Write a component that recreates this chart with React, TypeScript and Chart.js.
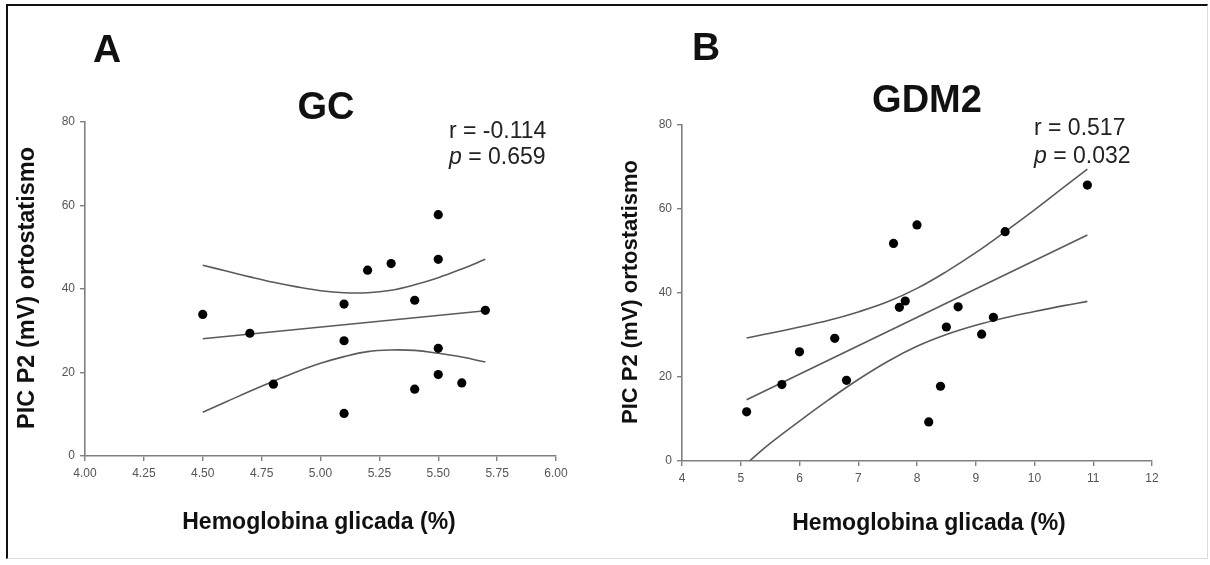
import React, { useEffect, useRef } from 'react';
import { Chart, registerables } from 'chart.js';
Chart.register(...registerables);

const FONT = '"Liberation Sans", Arial, Helvetica, sans-serif';

// ---- Panel A (GC) ----
const gcHbA1c = [4.5, 4.7, 4.8, 5.1, 5.1, 5.1, 5.2, 5.3, 5.4, 5.4, 5.5, 5.5, 5.5, 5.5, 5.6, 5.7];
const gcPic = [33.9, 29.4, 17.2, 36.4, 27.6, 10.2, 44.5, 46.1, 37.3, 16.0, 57.8, 47.1, 25.8, 19.5, 17.5, 34.9];
const gcFitX = [4.5, 5.7];
const gcFitY = [28.1, 34.8];
const gcBandX = [4.5, 4.6, 4.7, 4.8, 4.9, 5.0, 5.1, 5.2, 5.3, 5.4, 5.5, 5.6, 5.7];
const gcUpper = [45.7, 44.3, 42.9, 41.6, 40.5, 39.6, 39.1, 39.1, 39.7, 41.0, 42.7, 44.8, 47.1];
const gcLower = [10.5, 13.0, 15.5, 17.9, 20.2, 22.2, 23.8, 25.0, 25.4, 25.3, 24.6, 23.7, 22.5];
const gcXTicks = [4, 4.25, 4.5, 4.75, 5, 5.25, 5.5, 5.75, 6];
const gcXTickLabels = ['4.00', '4.25', '4.50', '4.75', '5.00', '5.25', '5.50', '5.75', '6.00'];

// ---- Panel B (GDM2) ----
const gdmHbA1c = [5.1, 5.7, 6.0, 6.6, 6.8, 7.6, 7.7, 7.8, 8.0, 8.2, 8.4, 8.5, 8.7, 9.1, 9.3, 9.5, 10.9];
const gdmPic = [11.7, 18.2, 26.0, 29.2, 19.2, 51.8, 36.6, 38.1, 56.2, 9.3, 17.8, 31.9, 36.7, 30.2, 34.2, 54.6, 65.7];
const gdmFitX = [5.1, 10.9];
const gdmFitY = [14.6, 53.8];
const gdmUpperX = [5.1, 5.5, 6, 6.5, 7, 7.5, 8, 8.5, 9, 9.5, 10, 10.5, 10.9];
const gdmUpper = [29.3, 30.4, 31.9, 33.5, 35.5, 37.9, 41.1, 45.1, 49.6, 54.6, 59.8, 65.2, 69.5];
const gdmLowerX = [5.15, 5.5, 6, 6.5, 7, 7.5, 8, 8.5, 9, 9.5, 10, 10.5, 10.9];
const gdmLower = [0, 4.2, 9.5, 14.6, 19.4, 23.7, 27.3, 30.1, 32.3, 34.1, 35.6, 37.0, 38.0];
const gdmXTicks = [4, 5, 6, 7, 8, 9, 10, 11, 12];
const gdmXTickLabels = ['4', '5', '6', '7', '8', '9', '10', '11', '12'];

const yTicks = [0, 20, 40, 60, 80];
const yTickLabels = ['0', '20', '40', '60', '80'];

const zip = (xs: number[], ys: number[]) => xs.map((x, i) => ({ x, y: ys[i] }));

const textPlugin = {
  id: 'panelText',
  afterDraw(chart: any, _args: any, opts: any) {
    const ctx = chart.ctx as CanvasRenderingContext2D;
    const items = (opts && opts.items) || [];
    for (const it of items) {
      ctx.save();
      ctx.fillStyle = it.color || '#111';
      ctx.textBaseline = it.baseline || 'alphabetic';
      if (it.rotate) {
        ctx.translate(it.x, it.y);
        ctx.rotate(it.rotate);
        ctx.font = it.font;
        ctx.textAlign = 'center';
        ctx.fillText(it.text, 0, 0);
      } else if (it.parts) {
        let x = it.x;
        for (const p of it.parts) {
          ctx.font = p.font;
          ctx.textAlign = 'left';
          ctx.fillText(p.text, x, it.y);
          x += ctx.measureText(p.text).width;
        }
      } else {
        ctx.font = it.font;
        ctx.textAlign = it.align || 'left';
        ctx.fillText(it.text, it.x, it.y);
      }
      ctx.restore();
    }
  },
};

type PanelProps = {
  left: number;
  width: number;
  height: number;
  area: { left: number; right: number; top: number; bottom: number };
  xMin: number;
  xMax: number;
  xTicks: number[];
  xTickLabels: string[];
  px: number[];
  py: number[];
  fit: { x: number; y: number }[];
  upper: { x: number; y: number }[];
  lower: { x: number; y: number }[];
  texts: any[];
};

function Panel(props: PanelProps) {
  const ref = useRef<HTMLCanvasElement | null>(null);
  useEffect(() => {
    const canvas = ref.current;
    if (!canvas) return;
    const { area, width, height } = props;
    const lineStyle = {
      showLine: true,
      borderColor: '#5a5a5a',
      borderWidth: 1.6,
      pointRadius: 0,
      fill: false,
      tension: 0.4,
    };
    const axisCommon = {
      grid: {
        drawOnChartArea: false,
        drawTicks: true,
        tickLength: 5,
        color: '#808080',
        lineWidth: 1.4,
      },
      border: { display: true, color: '#808080', width: 1.6 },
    };
    const chart = new Chart(canvas, {
      type: 'scatter',
      data: {
        datasets: [
          { ...lineStyle, data: props.upper, order: 2 } as any,
          { ...lineStyle, data: props.fit, tension: 0, order: 2 } as any,
          { ...lineStyle, data: props.lower, order: 2 } as any,
          {
            data: zip(props.px, props.py),
            backgroundColor: '#000',
            borderColor: '#000',
            pointRadius: 4.6,
            pointBorderWidth: 0,
            showLine: false,
            order: 1,
          } as any,
        ],
      },
      options: {
        responsive: false,
        animation: false,
        devicePixelRatio: 1,
        layout: {
          padding: { left: 0, top: area.top, right: width - area.right, bottom: 0 },
        },
        plugins: {
          legend: { display: false },
          tooltip: { enabled: false },
          title: { display: false },
          panelText: { items: props.texts },
        } as any,
        scales: {
          x: {
            type: 'linear',
            min: props.xMin,
            max: props.xMax,
            afterBuildTicks: (s: any) => {
              s.ticks = props.xTicks.map((v) => ({ value: v }));
            },
            afterFit: (s: any) => {
              s.height = height - area.bottom;
            },
            ticks: {
              autoSkip: false,
              maxRotation: 0,
              color: '#555',
              font: { family: FONT, size: 12 },
              padding: 5,
              callback: (_v: any, i: number) => props.xTickLabels[i],
            },
            ...axisCommon,
          } as any,
          y: {
            type: 'linear',
            min: 0,
            max: 80,
            afterBuildTicks: (s: any) => {
              s.ticks = yTicks.map((v) => ({ value: v }));
            },
            afterFit: (s: any) => {
              s.width = area.left;
            },
            ticks: {
              autoSkip: false,
              color: '#555',
              font: { family: FONT, size: 12 },
              padding: 5,
              callback: (_v: any, i: number) => yTickLabels[i],
            },
            ...axisCommon,
          } as any,
        },
      },
      plugins: [textPlugin as any],
    });
    return () => chart.destroy();
  }, []);
  return (
    <canvas
      ref={ref}
      width={props.width}
      height={props.height}
      style={{
        position: 'absolute',
        left: props.left,
        top: 0,
        width: props.width,
        height: props.height,
      }}
    />
  );
}

const italic = (s: number) => `italic ${s}px ${FONT}`;
const normal = (s: number) => `${s}px ${FONT}`;
const bold = (s: number) => `bold ${s}px ${FONT}`;

export default function App() {
  const textsA = [
    { text: 'A', x: 93, y: 62, font: bold(39) },
    { text: 'GC', x: 326, y: 119, font: bold(38), align: 'center' },
    { text: 'r = -0.114', x: 449, y: 138, font: normal(23), color: '#222' },
    {
      parts: [
        { text: 'p', font: italic(23) },
        { text: ' = 0.659', font: normal(23) },
      ],
      x: 449,
      y: 164,
      color: '#222',
    },
    { text: 'Hemoglobina glicada (%)', x: 319, y: 529, font: bold(23), align: 'center' },
    { text: 'PIC P2 (mV) ortostatismo', x: 28, y: 288, font: bold(23.5), rotate: -Math.PI / 2, baseline: 'middle' },
  ];
  const textsB = [
    { text: 'B', x: 87, y: 60, font: bold(39) },
    { text: 'GDM2', x: 322, y: 112, font: bold(38), align: 'center' },
    { text: 'r = 0.517', x: 429, y: 135, font: normal(23), color: '#222' },
    {
      parts: [
        { text: 'p', font: italic(23) },
        { text: ' = 0.032', font: normal(23) },
      ],
      x: 429,
      y: 163,
      color: '#222',
    },
    { text: 'Hemoglobina glicada (%)', x: 324, y: 530, font: bold(23), align: 'center' },
    { text: 'PIC P2 (mV) ortostatismo', x: 26, y: 292, font: bold(22), rotate: -Math.PI / 2, baseline: 'middle' },
  ];
  return (
    <div
      style={{
        position: 'fixed',
        left: 0,
        top: 0,
        width: 1210,
        height: 565,
        background: '#fff',
        overflow: 'hidden',
      }}
    >
      <Panel
        left={0}
        width={605}
        height={565}
        area={{ left: 85, right: 556, top: 122, bottom: 456 }}
        xMin={4}
        xMax={6}
        xTicks={gcXTicks}
        xTickLabels={gcXTickLabels}
        px={gcHbA1c}
        py={gcPic}
        fit={zip(gcFitX, gcFitY)}
        upper={zip(gcBandX, gcUpper)}
        lower={zip(gcBandX, gcLower)}
        texts={textsA}
      />
      <Panel
        left={605}
        width={605}
        height={565}
        area={{ left: 77, right: 547, top: 125, bottom: 461 }}
        xMin={4}
        xMax={12}
        xTicks={gdmXTicks}
        xTickLabels={gdmXTickLabels}
        px={gdmHbA1c}
        py={gdmPic}
        fit={zip(gdmFitX, gdmFitY)}
        upper={zip(gdmUpperX, gdmUpper)}
        lower={zip(gdmLowerX, gdmLower)}
        texts={textsB}
      />
      <div
        style={{
          position: 'absolute',
          left: 6,
          top: 4,
          width: 1202,
          height: 555,
          boxSizing: 'border-box',
          borderLeft: '2px solid #111',
          borderTop: '2px solid #111',
          borderRight: '1px solid #ddd',
          borderBottom: '1px solid #ddd',
          pointerEvents: 'none',
        }}
      />
    </div>
  );
}
